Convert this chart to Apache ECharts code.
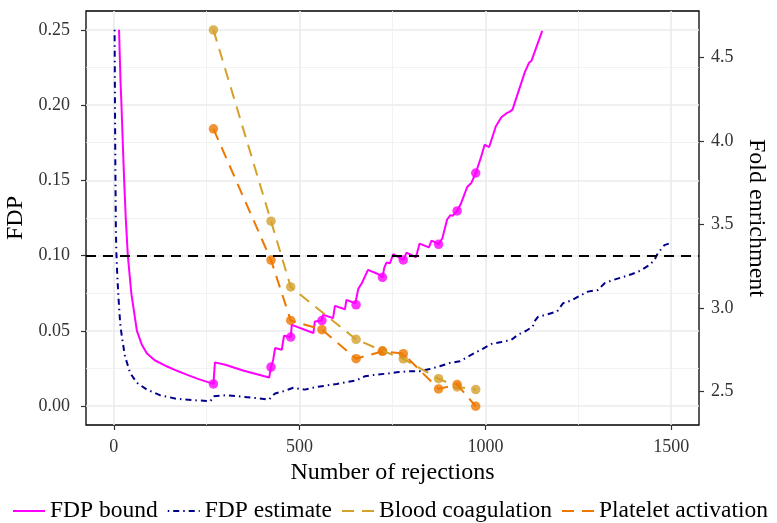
<!DOCTYPE html>
<html>
<head>
<meta charset="utf-8">
<script src="https://cdn.jsdelivr.net/npm/echarts@6/dist/echarts.min.js"></script>
<style>
  html, body { margin: 0; padding: 0; background: #ffffff; }
  #chart { width: 777px; height: 523px; }
</style>
</head>
<body>
<div id="chart"></div>
<script>
// FDP bound (solid magenta curve)
const boundX = [14, 16, 18, 20.5, 24, 27.7, 32, 37.6, 47, 62, 75, 89, 110, 142, 170, 196, 230, 268,
  272, 300, 350, 418, 423, 427, 429, 434, 452, 458, 476, 479, 537, 541, 559, 563, 590, 595, 622, 626,
  650, 653, 658, 668, 684, 711, 723, 728, 734, 743, 752, 779, 788, 813, 823, 848, 855, 868, 874, 884,
  897, 906, 912, 924, 935, 951, 962, 974, 987, 998, 1010, 1028, 1033, 1043, 1048, 1058, 1065, 1073,
  1106, 1110, 1117, 1124, 1153];
const boundY = [0.25, 0.232, 0.215, 0.20, 0.175, 0.15, 0.125, 0.10, 0.075, 0.05, 0.041, 0.035, 0.0305,
  0.0265, 0.0235, 0.021, 0.0178, 0.0148,
  0.0291, 0.0275, 0.0235, 0.019, 0.026, 0.029, 0.031, 0.0386, 0.0375, 0.0468, 0.0459, 0.054, 0.0486,
  0.0563, 0.0569, 0.0607, 0.0585, 0.0666, 0.0644, 0.0706,
  0.0684, 0.0673, 0.078, 0.082, 0.0905, 0.0878, 0.0856, 0.092, 0.0955, 0.0949, 0.101, 0.0971, 0.102,
  0.0989, 0.108, 0.1055, 0.11, 0.1085, 0.1075, 0.1114,
  0.124, 0.1269, 0.1265, 0.1297, 0.135, 0.1456, 0.1482, 0.1549, 0.1644, 0.1737, 0.172, 0.1858, 0.1855,
  0.1919, 0.1915, 0.1948, 0.1955, 0.197,
  0.2217, 0.222, 0.2279, 0.2294, 0.2493];

// FDP estimate (navy dot-dash curve)
const estX = [2, 3, 4, 5.4, 7, 9.7, 13, 17, 21.5, 30, 44, 62, 89, 124, 169, 214, 260, 268, 304, 375,
  418, 425, 434, 456, 483, 514, 546, 572, 600, 626, 653, 676, 707, 734, 761, 796, 823, 850, 877, 904,
  931, 958, 994, 1016, 1043, 1070, 1088, 1110, 1128, 1130, 1141, 1168, 1193, 1209, 1231, 1254, 1276,
  1303, 1321, 1343, 1368, 1395, 1417, 1442, 1455, 1464, 1482, 1500];
const estY = [0.25, 0.20, 0.16, 0.117, 0.10, 0.084, 0.07, 0.055, 0.0463, 0.033, 0.022, 0.0155, 0.011,
  0.0073, 0.0049, 0.004, 0.0033, 0.0066, 0.0073, 0.0056,
  0.0044, 0.0065, 0.0084, 0.0099, 0.0122, 0.011, 0.0128, 0.0137, 0.0148, 0.0159, 0.0172, 0.0199, 0.021,
  0.0216, 0.0225, 0.0232, 0.0232, 0.0247, 0.0265, 0.0287,
  0.0298, 0.0336, 0.0383, 0.0413, 0.0426, 0.0441, 0.0475, 0.0501, 0.053, 0.0556, 0.0592, 0.0611, 0.0629,
  0.0684, 0.0702, 0.0733, 0.0761,
  0.0772, 0.0817, 0.0838, 0.0856, 0.0878, 0.09, 0.0938, 0.0971, 0.1015, 0.107, 0.1085];

// Rejection counts at which the GO terms were evaluated
const termX = [268, 423, 476, 560, 652, 723, 779, 874, 924, 974];
// FDP bound at those rejection counts (magenta dots)
const boundAtTerm = [0.0148, 0.026, 0.0459, 0.0569, 0.0673, 0.0856, 0.0971, 0.1075, 0.1297, 0.1549];
// Fold enrichment per term (right axis)
const bloodCoag = [4.665, 3.519, 3.125, null, 2.811, 2.742, 2.694, 2.575, 2.526, 2.510];
const plateletAct = [4.072, 3.286, 2.924, 2.869, 2.695, 2.739, 2.725, 2.514, 2.540, 2.410];

// Tick positions
const xTicks = [0, 500, 1000, 1500];
const xMinor = [250, 750, 1250];
const fdpTicks = [0, 0.05, 0.10, 0.15, 0.20, 0.25];
const fdpMinor = [0.025, 0.075, 0.125, 0.175, 0.225];
const foldTicks = [2.5, 3.0, 3.5, 4.0, 4.5];
const fdpTarget = 0.10;

const names = ['FDP bound', 'FDP estimate', 'Blood coagulation', 'Platelet activation'];

const zip = (xs, ys) => xs.map((x, i) => [x, ys[i]]);

const FONT = 'Liberation Serif';
const MAGENTA = '#FF00FF', NAVY = '#00008B', GOLD = '#D4A12A', ORANGE = '#EE7700';
const gridMajor = { show: true, lineStyle: { color: '#EBEBEB', width: 1.6 } };
const gridMinor = { show: true, lineStyle: { color: '#EFEFEF', width: 0.8 } };
const tickLabel = { color: '#333333', fontFamily: FONT, fontSize: 18 };
const titleText = { fontFamily: FONT, fontSize: 24, color: '#000000' };

const chart = echarts.init(document.getElementById('chart'), null, { renderer: 'canvas' });

chart.setOption({
  animation: false,
  backgroundColor: '#ffffff',
  grid: {
    left: 86, right: 78, top: 11, bottom: 98,
    outerBoundsMode: 'none', containLabel: false,
    show: true, borderColor: '#000000', borderWidth: 1.3, backgroundColor: '#ffffff'
  },
  legend: {
    data: names,
    left: 12, top: 499, padding: 0,
    itemWidth: 32, itemHeight: 14, itemGap: 9,
    itemStyle: { opacity: 0 },
    textStyle: { fontFamily: FONT, fontSize: 23.5, color: '#000000' }
  },
  xAxis: [
    {
      type: 'value', min: -75, max: 1575,
      name: 'Number of rejections', nameLocation: 'middle', nameGap: 29,
      nameTextStyle: titleText,
      axisLine: { show: false, onZero: false },
      axisTick: { show: true, length: 5, customValues: xTicks, lineStyle: { color: '#333333', width: 1.2 } },
      axisLabel: { ...tickLabel, margin: 13, customValues: xTicks, formatter: v => String(Math.round(v)) },
      splitLine: gridMajor
    },
    {
      type: 'value', min: -75, max: 1575, position: 'bottom',
      axisLine: { show: false, onZero: false },
      axisTick: { show: false, customValues: xMinor },
      axisLabel: { show: false, customValues: xMinor },
      splitLine: gridMinor
    }
  ],
  yAxis: [
    {
      type: 'value', min: -0.0125, max: 0.2625, position: 'left',
      name: 'FDP', nameLocation: 'middle', nameGap: 53,
      nameTextStyle: titleText,
      axisLine: { show: false, onZero: false },
      axisTick: { show: true, length: 5, customValues: fdpTicks, lineStyle: { color: '#333333', width: 1.2 } },
      axisLabel: { ...tickLabel, margin: 16, customValues: fdpTicks, formatter: v => v.toFixed(2) },
      splitLine: gridMajor
    },
    {
      type: 'value', min: 2.29765, max: 4.77815, position: 'right',
      name: 'Fold enrichment', nameLocation: 'middle', nameGap: 37, nameRotate: -90,
      nameTextStyle: titleText,
      axisLine: { show: false, onZero: false },
      axisTick: { show: true, length: 5, customValues: foldTicks, lineStyle: { color: '#333333', width: 1.2 } },
      axisLabel: { ...tickLabel, margin: 12, customValues: foldTicks, formatter: v => v.toFixed(1) },
      splitLine: { show: false }
    },
    {
      type: 'value', min: -0.0125, max: 0.2625, position: 'left',
      axisLine: { show: false, onZero: false },
      axisTick: { show: false, customValues: fdpMinor },
      axisLabel: { show: false, customValues: fdpMinor },
      splitLine: gridMinor
    }
  ],
  series: [
    {
      // FDP target level
      type: 'line', data: [], silent: true,
      markLine: {
        silent: true, symbol: 'none', label: { show: false },
        lineStyle: { color: '#000000', width: 1.8, type: [10, 7] },
        data: [{ yAxis: fdpTarget }]
      }
    },
    {
      name: names[0], type: 'line', data: zip(boundX, boundY),
      symbol: 'none', lineStyle: { color: MAGENTA, width: 2 }, itemStyle: { color: MAGENTA }
    },
    {
      type: 'scatter', data: zip(termX, boundAtTerm), symbolSize: 9.5,
      itemStyle: { color: MAGENTA }
    },
    {
      name: names[1], type: 'line', data: zip(estX, estY),
      symbol: 'none', lineStyle: { color: NAVY, width: 2, type: [1.5, 4, 6, 4] }, itemStyle: { color: NAVY }
    },
    {
      name: names[2], type: 'line', yAxisIndex: 1, data: zip(termX, bloodCoag), connectNulls: true,
      symbol: 'none', lineStyle: { color: GOLD, width: 2, type: [12, 8] }, itemStyle: { color: GOLD }
    },
    {
      type: 'scatter', yAxisIndex: 1, data: zip(termX, bloodCoag).filter(p => p[1] !== null), symbolSize: 9.5,
      itemStyle: { color: GOLD }
    },
    {
      name: names[3], type: 'line', yAxisIndex: 1, data: zip(termX, plateletAct),
      symbol: 'none', lineStyle: { color: ORANGE, width: 2, type: [12, 8] }, itemStyle: { color: ORANGE }
    },
    {
      type: 'scatter', yAxisIndex: 1, data: zip(termX, plateletAct), symbolSize: 9.5,
      itemStyle: { color: ORANGE }
    }
  ]
});
</script>
</body>
</html>
